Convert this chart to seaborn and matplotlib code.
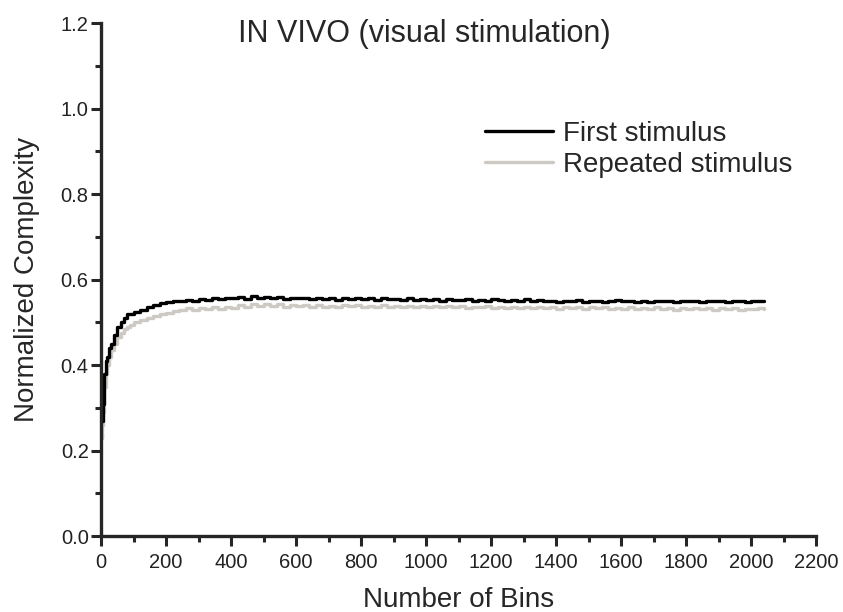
import matplotlib
matplotlib.use("Agg")
import matplotlib.pyplot as plt
import matplotlib.ticker as mticker
import seaborn as sns
import pandas as pd

# bins sampled along the x axis (dense at the start where the curves rise)
bins = [0, 2, 4, 6, 8, 10, 14, 18, 24, 30, 40, 50, 60, 70, 80, 90, 100,
        120, 140, 160, 180, 200, 220,
        240, 260, 280, 300, 320, 340, 360, 380, 400,
        420, 440, 460, 480, 500, 520, 540, 560, 580, 600,
        620, 640, 660, 680, 700, 720, 740, 760, 780, 800,
        820, 840, 860, 880, 900, 920, 940, 960, 980, 1000,
        1020, 1040, 1060, 1080, 1100, 1120, 1140, 1160, 1180, 1200,
        1220, 1240, 1260, 1280, 1300, 1320, 1340, 1360, 1380, 1400,
        1420, 1440, 1460, 1480, 1500, 1520, 1540, 1560, 1580, 1600,
        1620, 1640, 1660, 1680, 1700, 1720, 1740, 1760, 1780, 1800,
        1820, 1840, 1860, 1880, 1900, 1920, 1940, 1960, 1980, 2000,
        2020, 2040]

first_stim = [0.30, 0.28, 0.27, 0.31, 0.34, 0.38, 0.41, 0.42, 0.44, 0.45,
              0.47, 0.49, 0.50, 0.51, 0.52, 0.52, 0.525,
              0.53, 0.535, 0.54, 0.545, 0.548, 0.55,
              0.551, 0.553, 0.550, 0.555, 0.552, 0.557, 0.554, 0.558, 0.556,
              0.559, 0.555, 0.561, 0.557, 0.560, 0.556, 0.559, 0.554, 0.558, 0.556,
              0.557, 0.554, 0.558, 0.555, 0.556, 0.553, 0.557, 0.555, 0.558, 0.554,
              0.556, 0.553, 0.557, 0.554, 0.555, 0.552, 0.556, 0.553, 0.555, 0.552,
              0.554, 0.551, 0.555, 0.553, 0.552, 0.554, 0.551, 0.553, 0.550, 0.554,
              0.552, 0.549, 0.553, 0.551, 0.554, 0.550, 0.552, 0.549, 0.551, 0.548,
              0.551, 0.549, 0.552, 0.548, 0.550, 0.551, 0.548, 0.550, 0.552, 0.549,
              0.551, 0.548, 0.550, 0.547, 0.551, 0.549, 0.550, 0.548, 0.551, 0.549,
              0.550, 0.548, 0.551, 0.549, 0.550, 0.547, 0.549, 0.551, 0.548, 0.550,
              0.549, 0.551]

repeated_stim = [0.24, 0.23, 0.26, 0.29, 0.32, 0.35, 0.38, 0.40, 0.42, 0.435,
                 0.45, 0.465, 0.475, 0.485, 0.49, 0.495, 0.50,
                 0.505, 0.51, 0.515, 0.519, 0.522, 0.527,
                 0.529, 0.533, 0.528, 0.534, 0.531, 0.536, 0.532, 0.537, 0.534,
                 0.540, 0.536, 0.542, 0.538, 0.544, 0.539, 0.542, 0.537, 0.541, 0.538,
                 0.540, 0.536, 0.541, 0.537, 0.539, 0.535, 0.540, 0.538, 0.541, 0.537,
                 0.539, 0.536, 0.540, 0.537, 0.539, 0.535, 0.538, 0.536, 0.539, 0.535,
                 0.538, 0.535, 0.539, 0.536, 0.538, 0.534, 0.537, 0.535, 0.538, 0.534,
                 0.537, 0.534, 0.536, 0.533, 0.537, 0.534, 0.536, 0.533, 0.535, 0.532,
                 0.536, 0.533, 0.535, 0.532, 0.536, 0.533, 0.535, 0.531, 0.534, 0.532,
                 0.535, 0.532, 0.534, 0.531, 0.535, 0.532, 0.534, 0.530, 0.533, 0.531,
                 0.534, 0.531, 0.533, 0.530, 0.534, 0.531, 0.533, 0.530, 0.532, 0.531,
                 0.533, 0.532]

labels = ["First stimulus", "Repeated stimulus"]
colors = ["#000000", "#cdc9c3"]

sns.set_style("ticks")
plt.rcParams["font.family"] = ["Liberation Sans", "DejaVu Sans"]

df = pd.concat([
    pd.DataFrame({"Bins": bins, "Complexity": first_stim, "series": labels[0]}),
    pd.DataFrame({"Bins": bins, "Complexity": repeated_stim, "series": labels[1]}),
])

fig = plt.figure(figsize=(8.43, 6.12), dpi=100)
ax = fig.add_axes([0.12, 0.124, 0.848, 0.838])

# gray first so the black curve sits on top
sns.lineplot(data=df, x="Bins", y="Complexity", hue="series",
             hue_order=labels[::-1], palette=dict(zip(labels, colors)),
             drawstyle="steps-post", linewidth=2.4, errorbar=None, ax=ax)

ax.set_xlim(0, 2200)
ax.set_ylim(0, 1.2)
ax.xaxis.set_major_locator(mticker.MultipleLocator(200))
ax.xaxis.set_minor_locator(mticker.MultipleLocator(100))
ax.yaxis.set_major_locator(mticker.MultipleLocator(0.2))
ax.yaxis.set_minor_locator(mticker.MultipleLocator(0.1))
ax.yaxis.set_major_formatter(mticker.FormatStrFormatter("%.1f"))

sns.despine(ax=ax)
for side in ["left", "bottom"]:
    ax.spines[side].set_linewidth(2.4)
ax.tick_params(which="major", length=7, width=2.2, labelsize=14.5,
               labelcolor="#222222")
ax.tick_params(axis="x", which="major", pad=5)
ax.tick_params(axis="y", which="major", pad=2)
ax.tick_params(which="minor", length=4.5, width=2.2)

ax.set_xlabel("Number of Bins", fontsize=20, labelpad=11)
ax.set_ylabel("Normalized Complexity", fontsize=20, labelpad=15)

ax.text(0.452, 0.979, "IN VIVO (visual stimulation)", transform=ax.transAxes,
        ha="center", va="center", fontsize=22)

handles, lbls = ax.get_legend_handles_labels()
order = [lbls.index(l) for l in labels]
ax.legend([handles[i] for i in order], [lbls[i] for i in order],
          loc="upper left", bbox_to_anchor=(0.537, 0.81), frameon=False,
          fontsize=20, handlelength=2.45, handletextpad=0.36,
          labelspacing=0.19, borderaxespad=0, borderpad=0)

fig.savefig("out.png", dpi=100)
